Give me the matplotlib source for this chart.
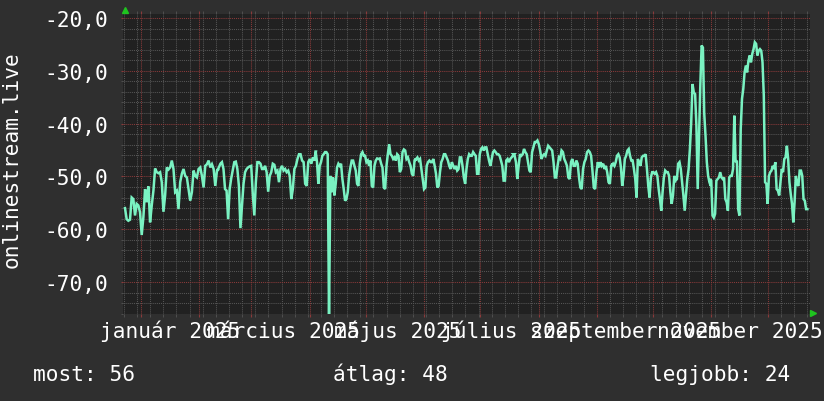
import numpy as np
import matplotlib
matplotlib.use("Agg")
import matplotlib.pyplot as plt
import matplotlib.transforms as mtransforms

# ---- data (x = days since 2025-01-01, y = value) ----
seg1_span = (-8.4, 41.5)
seg1_vals = [-56.0, -58.1, -58.4, -58.2, -54.0, -54.3, -57.4, -55.2, -55.5, -56.8,
             -61.1, -57.7, -52.4, -54.9, -51.9, -58.7, -55.5, -52.7, -48.5, -49.2,
             -49.4, -49.2, -51.1, -56.7, -53.6, -48.3, -48.7, -48.3, -47.0, -48.6,
             -53.0, -52.7, -56.2, -51.1, -49.5, -48.6, -49.9, -50.2, -52.4, -54.6,
             -53.0, -48.9, -49.9, -50.2, -48.6, -48.3, -49.9, -52.1, -48.0, -47.7,
             -47.0, -48.3, -47.7, -48.6, -51.8, -48.9, -48.6]
seg2_span = (40.8, 93.35)
seg2_vals = [-48.9, -48.3, -47.6, -47.3, -48.6, -52.4, -52.7, -58.1, -52.4, -50.4,
             -48.9, -47.3, -47.2, -48.6, -51.8, -59.8, -55.5, -51.4, -49.2, -48.6,
             -48.3, -48.1, -48.0, -53.3, -57.4, -51.1, -47.3, -47.3, -47.6, -48.6,
             -48.6, -48.0, -49.2, -52.9, -49.9, -49.2, -47.6, -47.8, -49.2, -48.9,
             -51.1, -48.6, -48.0, -48.9, -48.6, -49.2, -48.9, -49.9, -54.3, -52.4,
             -48.6, -48.0, -46.7, -45.8, -45.8, -47.0, -47.3, -51.4, -51.8, -47.3,
             -46.7, -47.6, -46.4, -47.0, -45.3]
seg3_span = (93.2, 146.6)
seg3_vals = [-45.3, -47.3, -51.4, -48.0, -47.3, -46.1, -45.8, -45.4, -45.4, -45.8,
             -77.0, -49.9, -53.0, -50.2, -53.6, -51.4, -48.3, -47.6, -48.0, -47.6,
             -50.5, -52.4, -54.6, -54.3, -53.0, -49.9, -48.3, -47.0, -47.0, -48.0,
             -48.9, -51.4, -51.8, -47.6, -45.8, -45.4, -46.1, -46.1, -47.3, -47.0,
             -48.0, -47.0, -51.8, -52.1, -48.0, -47.0, -46.6, -46.7, -46.6, -47.6,
             -48.3, -52.1, -52.4, -48.0, -45.8, -43.9, -45.8, -46.1, -46.7, -46.4,
             -47.0, -45.8, -46.1, -49.2, -48.6, -45.4, -44.9, -45.1, -46.7, -46.4,
             -47.3, -48.0, -49.5, -49.9, -47.0, -46.7]
seg4_span = (146.0, 199.0)
seg4_vals = [-47.0, -46.7, -46.4, -47.0, -46.7, -48.6, -50.5, -52.4, -52.1, -48.0,
             -47.3, -47.0, -47.3, -47.3, -46.7, -48.0, -49.5, -52.1, -51.8, -49.2,
             -47.3, -46.7, -45.8, -45.8, -46.4, -47.0, -48.0, -48.6, -47.3, -48.0,
             -48.6, -48.0, -48.9, -48.6, -46.4, -46.4, -48.0, -50.2, -51.4, -48.6,
             -46.7, -45.8, -46.1, -46.1, -45.4, -45.8, -46.1, -49.5, -49.5, -45.8,
             -44.8, -44.5, -45.1, -44.5, -44.5, -45.8, -47.0, -48.0, -46.7, -45.4,
             -45.1, -45.4, -45.8, -45.8, -46.1, -47.0, -48.0, -50.8, -50.8, -47.0,
             -46.7, -47.3, -46.7, -46.4, -46.1, -45.8]
seg5_span = (198.5, 251.4)
seg5_vals = [-45.8, -46.1, -47.3, -50.5, -48.0, -45.8, -46.1, -45.8, -44.8, -45.4,
             -45.8, -47.3, -48.9, -49.2, -45.4, -44.5, -43.5, -43.5, -43.2, -43.9,
             -45.1, -46.7, -46.1, -45.8, -46.1, -45.1, -44.2, -44.5, -44.8, -45.1,
             -47.3, -50.2, -50.2, -48.0, -46.4, -46.7, -45.1, -45.4, -46.7, -47.3,
             -48.0, -50.2, -50.5, -47.3, -46.7, -48.0, -48.0, -47.0, -47.6, -50.2,
             -52.1, -52.4, -48.6, -47.3, -46.7, -45.4, -45.1, -45.4, -46.1, -48.9,
             -52.1, -52.4, -49.2, -47.3, -48.3, -47.3, -48.0, -47.6, -48.6, -48.0,
             -49.2, -51.1, -51.4, -48.0, -47.6]
seg6_span = (251.0, 303.7)
seg6_vals = [-48.0, -47.6, -48.0, -47.3, -46.1, -45.8, -46.4, -48.3, -51.8, -49.9,
             -46.7, -46.1, -45.1, -44.8, -46.1, -47.0, -47.0, -48.6, -50.5, -54.0,
             -46.7, -47.3, -48.0, -46.4, -46.1, -46.1, -45.8, -48.6, -51.8, -54.0,
             -50.2, -49.2, -49.2, -49.5, -49.2, -49.9, -52.4, -54.3, -56.5, -53.0,
             -50.2, -48.9, -49.2, -49.2, -49.9, -53.0, -55.2, -53.6, -49.9, -50.8,
             -50.5, -47.6, -47.3, -48.6, -51.1, -53.6, -56.5, -53.6, -50.5, -48.6,
             -44.8, -39.8, -32.5, -34.1, -34.4, -40.4, -52.4, -42.3, -32.8, -25.2,
             -25.6, -38.0, -42.3, -47.3, -49.9, -51.1, -51.8]
seg7_span = (303.3, 355.2)
seg7_vals = [-50.5, -50.8, -57.4, -57.8, -57.1, -50.8, -50.5, -50.2, -49.2, -50.2,
             -50.5, -50.2, -54.3, -54.9, -56.5, -50.2, -49.9, -49.9, -48.6, -38.5,
             -47.3, -47.0, -56.2, -57.4, -41.0, -35.3, -33.4, -30.3, -29.0, -30.3,
             -28.1, -27.1, -28.4, -26.8, -25.9, -24.6, -24.9, -27.1, -26.2, -25.9,
             -26.2, -28.4, -34.7, -51.1, -51.4, -55.2, -49.9, -49.2, -48.9, -48.0,
             -48.6, -47.3, -52.4, -52.7, -53.6, -51.1, -48.6, -49.2, -46.7, -46.4,
             -44.2, -46.7, -51.1, -53.3, -55.2, -58.7, -54.9, -49.9, -51.4, -51.8,
             -48.9, -48.9, -49.9, -54.3, -54.6, -56.2, -56.2]

month_days = [0, 31, 59, 90, 120, 151, 181, 212, 243, 273, 304, 334]
label_days = [15.7, 76.3, 137.0, 197.6, 258.3, 319.0]
x_labels = ["január 2025", "március 2025", "május 2025", "július 2025",
            "szeptember 2025", "november 2025"]
y_ticks = [-20, -30, -40, -50, -60, -70]
y_ticklabels = ["-20,0", "-30,0", "-40,0", "-50,0", "-60,0", "-70,0"]
y_axis_label = "onlinestream.live"
legend_items = ["most: 56", "átlag: 48", "legjobb: 24"]

# ---- style ----
BG = "#2f2f2f"
PLOT_BG = "#212121"
LINE = "#7af2c2"
MINOR = "#555555"
MAJOR = "#8a3a3a"
TXT = "#ffffff"
FONT = "DejaVu Sans Mono"
FS = 15.2

segments = [(seg1_span, seg1_vals), (seg2_span, seg2_vals), (seg3_span, seg3_vals),
            (seg4_span, seg4_vals), (seg5_span, seg5_vals), (seg6_span, seg6_vals),
            (seg7_span, seg7_vals)]
days = np.concatenate([np.linspace(s[0], s[1], len(v)) for s, v in segments])
vals = np.concatenate([np.asarray(v, float) for s, v in segments])

fig = plt.figure(figsize=(8.24, 4.02), dpi=100, facecolor=BG)
ax = fig.add_axes([123 / 824, 87 / 402, 687 / 824, 300.5 / 402])
ax.set_facecolor(PLOT_BG)
for sp in ax.spines.values():
    sp.set_visible(False)

ax.set_xlim(-9.46, 356.6)
ax.set_ylim(-76.06, -19.15)

# grid
week_days = np.arange(-9, 357, 7)
ax.set_xticks(month_days)
ax.set_xticks(week_days, minor=True)
ax.set_yticks(y_ticks)
ax.set_yticks(np.arange(-76, -19, 2), minor=True)
ax.grid(which="minor", color=MINOR, linestyle=(0, (1, 1)), linewidth=0.75)
ax.grid(which="major", color=MAJOR, linestyle=(0, (1, 1)), linewidth=0.75)
ax.set_axisbelow(True)
ax.set_xticklabels([])
ax.tick_params(axis="x", which="major", length=2.5, color=MAJOR, top=True, bottom=True)
ax.tick_params(axis="x", which="minor", length=2.5, color=MINOR, top=True, bottom=True)
ax.tick_params(axis="y", which="both", length=1.5, color=MINOR)
ax.tick_params(axis="y", which="major", color=MAJOR)
ax.set_yticklabels(y_ticklabels, fontfamily=FONT, fontsize=FS, color=TXT)
ax.tick_params(axis="y", which="major", pad=9.2)

ax.plot(days, vals, color=LINE, linewidth=1.8, solid_joinstyle="miter", zorder=3)

trans = mtransforms.blended_transform_factory(ax.transData, ax.transAxes)
for d, lab in zip(label_days, x_labels):
    ax.text(d, -0.077, lab, transform=trans, ha="center", va="baseline",
            fontfamily=FONT, fontsize=FS, color=TXT)

# axis arrows
ax.plot([0.003], [1.012], marker="^", markersize=5, color="#1fc41f",
        transform=ax.transAxes, clip_on=False, zorder=5)
ax.plot([1.004], [0.003], marker=">", markersize=5, color="#1fc41f",
        transform=ax.transAxes, clip_on=False, zorder=5)

fig.text(12 / 824, 1 - 160 / 402, y_axis_label, rotation=90, ha="center", va="center",
         fontfamily=FONT, fontsize=FS, color=TXT)

legend_x = [33, 333, 650]
for xp, t in zip(legend_x, legend_items):
    fig.text(xp / 824, 21.3 / 402, t, ha="left", va="baseline",
             fontfamily=FONT, fontsize=FS, color=TXT)

fig.savefig("out.png", dpi=100, facecolor=BG)
